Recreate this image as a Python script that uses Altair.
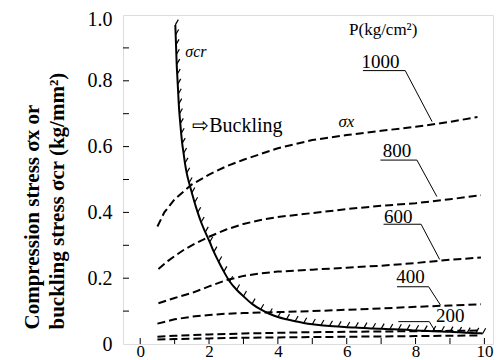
import altair as alt
import pandas as pd

# ---- values ----
# critical buckling stress curve (sigma_cr)
cr_x = [1.02, 1.03, 1.04, 1.05, 1.06, 1.075, 1.09, 1.105, 1.12, 1.14, 1.165, 1.19, 1.22, 1.26,
        1.30, 1.35, 1.42, 1.50, 1.58, 1.67, 1.77, 1.89, 2.02, 2.14, 2.28, 2.43, 2.60,
        2.80, 3.00, 3.25, 3.50, 3.75, 4.00, 4.25, 4.50, 4.75, 5.00, 5.25, 5.50, 5.75, 6.00,
        6.25, 6.50, 6.75, 7.00, 7.25, 7.50, 7.75, 8.00, 8.25, 8.50, 8.75, 9.00, 9.25, 9.50,
        9.75, 9.95]
cr_y = [0.97, 0.94, 0.91, 0.88, 0.85, 0.82, 0.79, 0.76, 0.73, 0.70, 0.67, 0.64, 0.61, 0.58,
        0.55, 0.52, 0.49, 0.46, 0.43, 0.40, 0.37, 0.34, 0.31, 0.28, 0.25, 0.22, 0.19,
        0.165, 0.145, 0.122, 0.105, 0.092, 0.082, 0.075, 0.069, 0.064, 0.060, 0.057, 0.055,
        0.053, 0.051, 0.050, 0.049, 0.047, 0.046, 0.045, 0.044, 0.043, 0.041, 0.040, 0.039,
        0.038, 0.037, 0.036, 0.034, 0.033, 0.032]

# compression stress curves sigma_x for each P (kg/cm2)
p1000_x = [0.5, 0.7, 1.0, 1.5, 2.0, 2.5, 3.0, 4.0, 5.0, 6.0, 7.0, 8.0, 9.0, 9.8]
p1000_y = [0.357, 0.40, 0.44, 0.485, 0.515, 0.54, 0.56, 0.595, 0.62, 0.635, 0.648, 0.66, 0.675, 0.69]
p800_x = [0.53, 0.8, 1.0, 1.25, 1.5, 2.0, 2.5, 3.0, 3.5, 4.0, 5.0, 6.0, 7.0, 8.0, 9.0, 9.9]
p800_y = [0.228, 0.252, 0.267, 0.285, 0.30, 0.326, 0.348, 0.365, 0.377, 0.386, 0.398, 0.41, 0.42, 0.428, 0.44, 0.452]
p600_x = [0.53, 1.0, 1.5, 2.0, 2.5, 3.0, 3.5, 4.0, 5.0, 6.0, 7.0, 8.0, 9.0, 9.9]
p600_y = [0.124, 0.14, 0.155, 0.175, 0.194, 0.207, 0.215, 0.22, 0.226, 0.232, 0.238, 0.246, 0.256, 0.263]
p400_x = [0.5, 1.0, 1.5, 2.0, 2.5, 3.0, 4.0, 5.0, 6.0, 7.0, 8.0, 9.0, 9.9]
p400_y = [0.062, 0.075, 0.083, 0.088, 0.092, 0.094, 0.097, 0.10, 0.104, 0.108, 0.113, 0.117, 0.121]
p200_x = [0.5, 1.0, 2.0, 3.0, 4.0, 5.0, 6.0, 7.0, 8.0, 9.0, 9.9]
p200_y = [0.022, 0.025, 0.029, 0.032, 0.034, 0.036, 0.037, 0.038, 0.039, 0.040, 0.041]
p0_x = [0.5, 1.0, 2.0, 3.0, 4.0, 5.0, 6.0, 7.0, 8.0, 9.0, 9.9]
p0_y = [0.014, 0.015, 0.017, 0.019, 0.020, 0.021, 0.022, 0.023, 0.024, 0.025, 0.026]

# curve labels and their leader lines (underline start, underline end, pointer end)
lab_text = ["1000", "800", "600", "400", "200"]
lab_x = [6.98, 7.46, 7.50, 7.85, 9.01]
lab_y = [0.839, 0.568, 0.368, 0.185, 0.068]
lead_x = [[6.47, 7.70, 8.48], [6.98, 8.04, 8.62], [7.07, 8.16, 8.70], [7.46, 8.38, 8.72], [7.50, 8.40, 8.58]]
lead_y = [[0.831, 0.831, 0.676], [0.559, 0.559, 0.448], [0.364, 0.364, 0.257], [0.174, 0.174, 0.119], [0.068, 0.068, 0.037]]

x_ticks = [0, 2, 4, 6, 8, 10]
x_minor = [0, 1, 2, 3, 4, 5, 6, 7, 8, 9, 10]
y_ticks = [0, 0.2, 0.4, 0.6, 0.8, 1.0]
y_minor = [0.1, 0.2, 0.3, 0.4, 0.5, 0.6, 0.7, 0.8, 0.9]

SERIF = "Liberation Serif"

# ---- tables ----
curves = []
for name, xs, ys in [("1000", p1000_x, p1000_y), ("800", p800_x, p800_y), ("600", p600_x, p600_y),
                     ("400", p400_x, p400_y), ("200", p200_x, p200_y), ("0", p0_x, p0_y)]:
    for i, (a, b) in enumerate(zip(xs, ys)):
        curves.append({"P": name, "i": i, "x": a, "y": b})
curves = pd.DataFrame(curves)
cr = pd.DataFrame({"x": cr_x, "y": cr_y, "i": range(len(cr_x))})
labels = pd.DataFrame({"x": lab_x, "y": lab_y, "t": lab_text})
leads = []
for t, xs, ys in zip(lab_text, lead_x, lead_y):
    for i, (a, b) in enumerate(zip(xs, ys)):
        leads.append({"L": t, "i": i, "x": a, "y": b})
leads = pd.DataFrame(leads)

xs_ = alt.Scale(domain=[-0.5, 10.25], nice=False, zero=False)
ys_ = alt.Scale(domain=[0, 1], nice=False, zero=False)

x_axis = alt.Axis(values=x_ticks, ticks=False, domain=False, grid=False, labelFlush=False,
                  labelFont=SERIF, labelFontSize=17, labelColor="black",
                  labelBaseline="bottom", labelPadding=16, title=None)
y_axis = alt.Axis(values=y_ticks, ticks=False, domain=False, grid=False, labelFlush=False,
                  labelFont=SERIF, labelFontSize=20, labelColor="black",
                  labelPadding=11,
                  labelBaseline={"condition": {"test": "datum.value == 1", "value": "alphabetic"},
                                 "value": "middle"},
                  labelOffset={"condition": {"test": "datum.value == 1", "value": 10},
                               "value": 0},
                  labelExpr="datum.value == 0 ? '0' : format(datum.value, '.1f')",
                  title=["Compression stress σx or", "buckling stress σcr (kg/mm²)"],
                  titleFont=SERIF, titleFontSize=21, titleFontWeight="bold",
                  titleColor="black", titleAngle=270, titleAlign="left", titleBaseline="top",
                  titleX=-102, titleY=314, titleLineHeight=25)


def X():
    return alt.X("x:Q", scale=xs_, axis=x_axis)


def Y():
    return alt.Y("y:Q", scale=ys_, axis=y_axis)


dashed = alt.Chart(curves).mark_line(strokeDash=[8, 4], strokeWidth=2, color="black").encode(
    x=X(), y=Y(), detail="P:N", order="i:Q")

crline = alt.Chart(cr).mark_line(strokeWidth=2, color="black", interpolate="monotone").encode(
    x=X(), y=Y(), order="i:Q")

hatch = alt.Chart(cr).mark_point(shape="M0,0L0.5,-0.87", size=144, filled=False,
                                 stroke="black", strokeWidth=1.2, opacity=1).encode(x=X(), y=Y())

lead = alt.Chart(leads).mark_line(strokeWidth=1, color="black").encode(
    x=X(), y=Y(), detail="L:N", order="i:Q")

labt = alt.Chart(labels).mark_text(font=SERIF, fontSize=19, align="center",
                                   baseline="alphabetic", color="black").encode(x=X(), y=Y(), text="t:N")


def note(txt, x, y, **kw):
    return alt.Chart(pd.DataFrame({"x": [x], "y": [y], "t": [txt]})).mark_text(
        color="black", baseline="alphabetic", **kw).encode(x=X(), y=Y(), text="t:N")


n1 = note("P(kg/cm²)", 7.06, 0.939, font=SERIF, fontSize=17, align="center")
n2 = note("σx", 5.99, 0.66, font=SERIF, fontSize=17, fontStyle="italic", align="center")
n3 = note("σcr", 1.31, 0.872, font=SERIF, fontSize=16, fontStyle="italic", align="left")
n4 = note("⇨Buckling", 1.51, 0.644, font=SERIF, fontSize=20, align="left")

ytk = alt.Chart(pd.DataFrame({"y": y_minor})).mark_rule(color="black", strokeWidth=1).encode(
    y=Y(), x=alt.value(0), x2=alt.value(6))
xtk = alt.Chart(pd.DataFrame({"x": x_minor})).mark_rule(color="black", strokeWidth=1).encode(
    x=X(), y=alt.value(329), y2=alt.value(323))

chart = alt.layer(dashed, crline, hatch, lead, labt, n1, n2, n3, n4, ytk, xtk).properties(
    width=370, height=329,
    autosize=alt.AutoSizeParams(type="none"),
    padding={"left": 115, "top": 7, "right": 3, "bottom": 30},
).configure_view(stroke="black", strokeWidth=1.5).configure_axis(
    labelFont=SERIF, titleFont=SERIF
).configure(background="white")

chart.save("out.html", embed_options={"renderer": "svg", "actions": False})
